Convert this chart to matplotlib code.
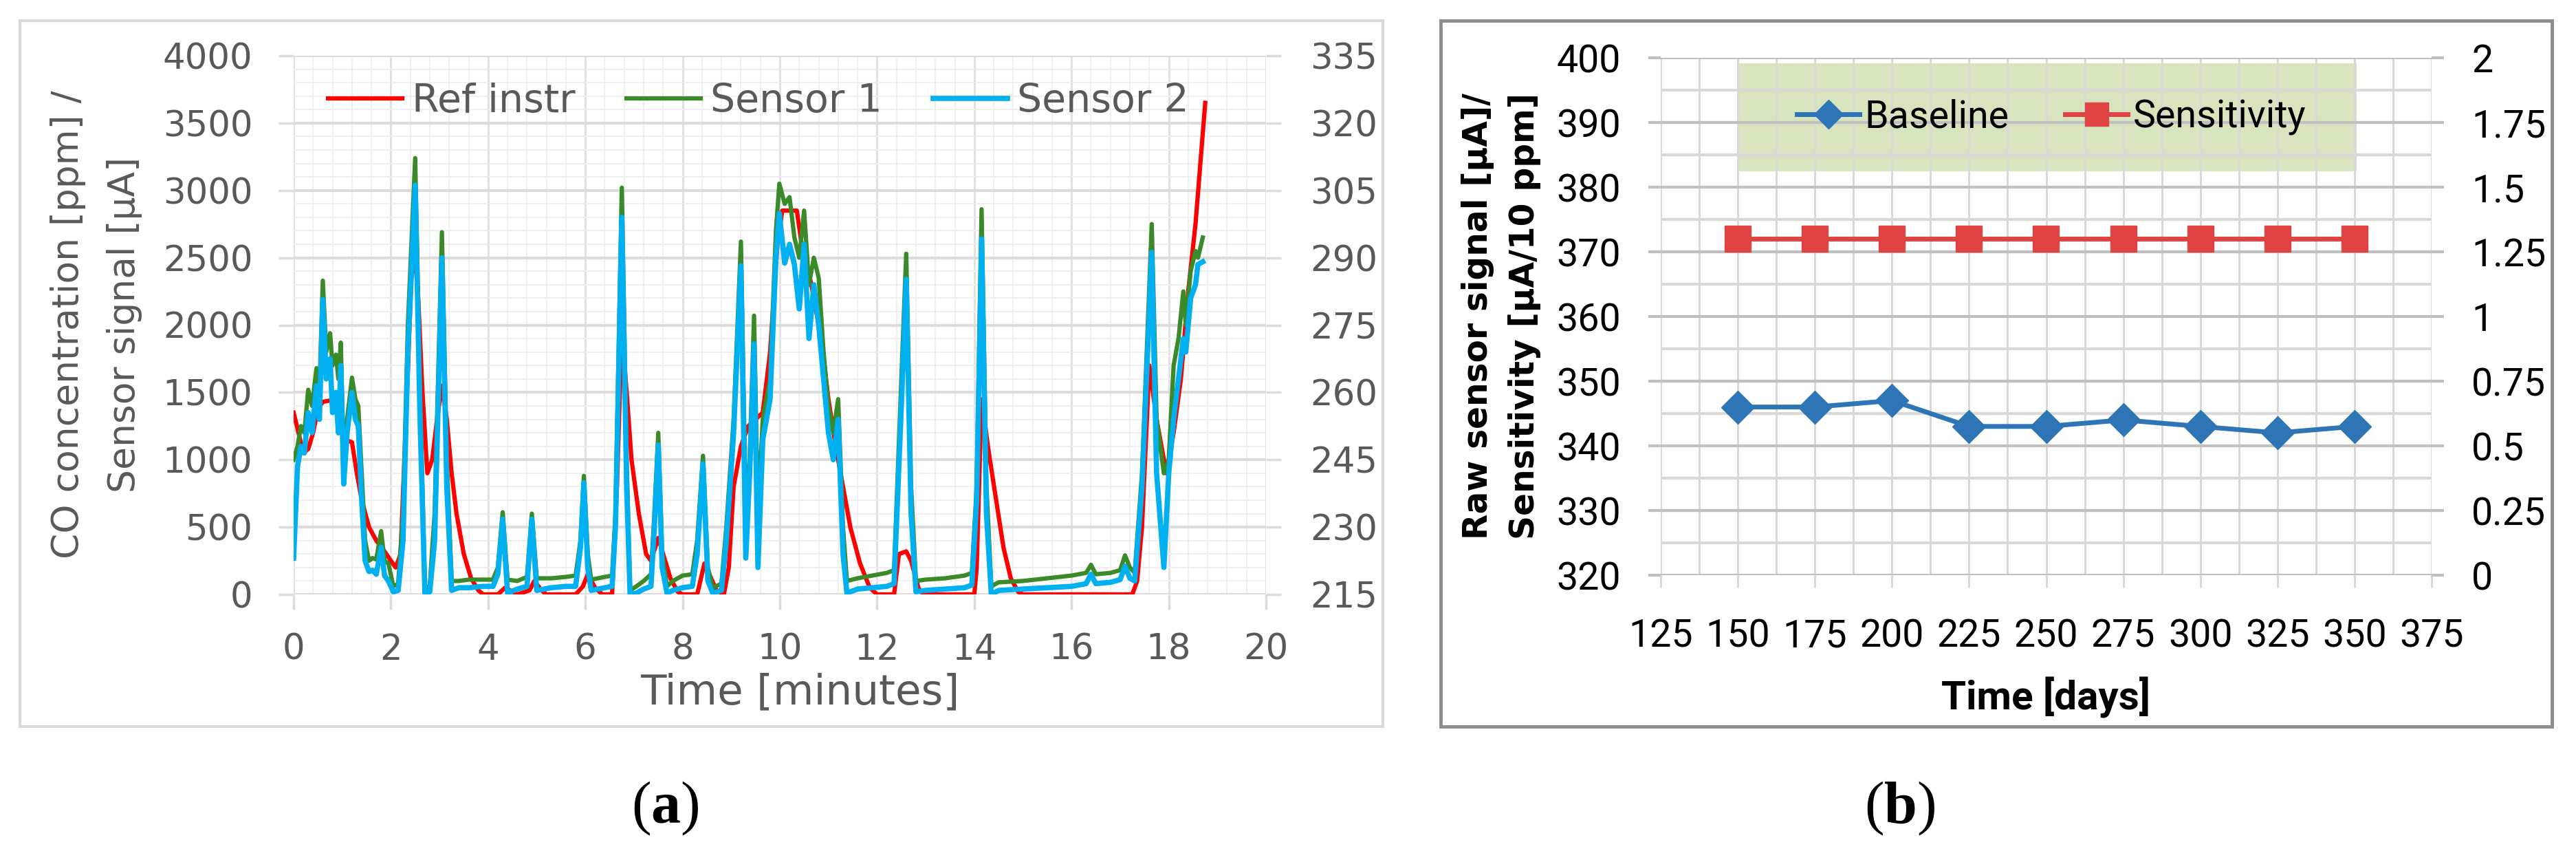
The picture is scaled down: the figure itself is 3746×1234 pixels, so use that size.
"""Two panel sensor figure: CO time series (a) and long term drift (b)."""

import matplotlib
matplotlib.use('Agg')
import matplotlib.pyplot as plt
from matplotlib.patches import Rectangle
from matplotlib.ticker import MultipleLocator, FuncFormatter

W, H, DPI = 3746, 1234, 100

# ---- panel (a): reference instrument [ppm] and two sensors [uA]
ref_time = [0.0, 0.1, 0.2, 0.3, 0.4, 0.5, 0.6, 0.75, 0.85, 0.95, 1.05, 1.2,
            1.3, 1.4, 1.55, 1.7, 1.85, 2.0, 2.1, 2.2, 2.3, 2.45, 2.55, 2.65,
            2.75, 2.85, 2.95, 3.05, 3.15, 3.25, 3.35, 3.5, 3.65, 3.8, 3.9,
            4.2, 4.35, 4.5, 4.6, 4.85, 4.95, 5.1, 5.2, 5.8, 5.95, 6.05, 6.2,
            6.35, 6.55, 6.65, 6.75, 6.85, 6.95, 7.1, 7.25, 7.35, 7.5, 7.6,
            7.75, 7.9, 8.0, 8.3, 8.45, 8.55, 8.7, 8.85, 8.95, 9.05, 9.2, 9.35,
            9.5, 9.65, 9.8, 9.95, 10.05, 10.35, 10.45, 10.65, 10.85, 11.0,
            11.15, 11.3, 11.45, 11.65, 11.85, 12.0, 12.35, 12.45, 12.6, 12.7,
            12.85, 12.95, 14.0, 14.05, 14.15, 14.3, 14.45, 14.6, 14.75, 14.9,
            15.0, 17.25, 17.35, 17.45, 17.6, 17.75, 17.95, 18.1, 18.25, 18.4,
            18.55, 18.65, 18.75]
ref_ppm = [1350, 1200, 1050, 1080, 1200, 1380, 1430, 1440, 1400, 1250, 1150,
           1130, 900, 700, 500, 400, 330, 250, 200, 300, 1200, 2620, 2300,
           1500, 900, 1000, 1300, 1550, 1300, 900, 600, 300, 120, 30, 0,
           0, 50, 20, 0, 30, 100, 30, 0, 0, 60, 150, 50,
           0, 0, 800, 1960, 1500, 1000, 600, 300, 250, 420, 300,
           120, 20, 0, 0, 230, 150, 30, 0, 200, 800, 1100, 1250,
           1300, 1350, 1800, 2600, 2850, 2850, 2600, 2300, 1900, 1450,
           1100, 800, 500, 230, 50, 0, 0, 300, 320, 250,
           50, 0, 0, 200, 1450, 1050, 700, 350, 120, 20,
           0, 0, 100, 500, 1700, 1300, 900, 1200, 1600, 2250,
           2750, 3200, 3650]

sensor_time = [0.0, 0.08, 0.15, 0.22, 0.3, 0.38, 0.47, 0.53, 0.6, 0.67,
               0.75, 0.8, 0.87, 0.92, 0.97, 1.03, 1.1, 1.2, 1.27, 1.33,
               1.4, 1.47, 1.55, 1.62, 1.7, 1.8, 1.87, 1.95, 2.05, 2.15,
               2.25, 2.35, 2.5, 2.6, 2.7, 2.8, 2.9, 3.05, 3.15, 3.25,
               3.4, 3.6, 3.9, 4.1, 4.2, 4.3, 4.4, 4.6, 4.8, 4.9,
               5.0, 5.3, 5.6, 5.8, 5.9, 5.97, 6.05, 6.12, 6.4, 6.55,
               6.62, 6.75, 6.85, 6.92, 7.05, 7.2, 7.35, 7.42, 7.5, 7.58,
               7.68, 7.8, 8.0, 8.2, 8.3, 8.42, 8.52, 8.62, 8.8, 8.9,
               9.05, 9.2, 9.3, 9.38, 9.47, 9.55, 9.65, 9.8, 9.92, 9.99,
               10.1, 10.2, 10.3, 10.4, 10.5, 10.6, 10.7, 10.8, 10.9, 11.0,
               11.1, 11.2, 11.3, 11.38, 11.6, 11.9, 12.2, 12.35, 12.5, 12.6,
               12.7, 12.8, 13.0, 13.4, 13.8, 13.95, 14.05, 14.15, 14.25, 14.35,
               14.5, 15.0, 15.5, 16.0, 16.3, 16.4, 16.5, 16.8, 17.0, 17.1,
               17.2, 17.3, 17.45, 17.65, 17.75, 17.9, 18.0, 18.1, 18.2, 18.3,
               18.35, 18.45, 18.55, 18.6, 18.7]
sensor1_ua = [245.0, 248.0, 252.5, 251.0, 260.6, 257.0, 265.4, 260.0, 284.9, 269.0,
              273.2, 266.0, 268.4, 263.0, 271.1, 245.0, 254.0, 263.3, 258.5, 257.0,
              242.0, 227.0, 222.5, 223.1, 222.8, 229.1, 222.5, 221.9, 216.8, 217.4,
              233.0, 275.0, 312.2, 260.0, 216.5, 216.8, 233.0, 295.7, 245.0, 218.0,
              218.0, 218.3, 218.3, 218.3, 221.0, 233.3, 218.3, 218.0, 218.9, 233.0,
              218.6, 218.6, 218.9, 219.2, 227.0, 241.4, 224.0, 218.3, 218.9, 219.2,
              233.0, 305.6, 245.0, 215.9, 216.8, 218.0, 219.5, 233.0, 251.0, 224.0,
              216.8, 218.0, 219.2, 219.5, 227.0, 245.9, 221.0, 216.5, 217.4, 230.0,
              254.0, 293.6, 233.0, 245.0, 277.1, 233.0, 254.0, 263.0, 296.0, 306.5,
              302.0, 303.5, 294.5, 290.0, 300.5, 284.0, 290.0, 285.5, 269.0, 257.0,
              251.0, 258.5, 230.0, 218.0, 218.6, 219.2, 219.8, 220.4, 263.0, 290.9,
              239.0, 218.0, 218.3, 218.6, 219.2, 219.8, 239.0, 300.8, 239.0, 216.8,
              217.7, 218.0, 218.6, 219.2, 219.8, 221.6, 219.5, 219.8, 220.4, 223.7,
              221.0, 219.8, 242.0, 297.5, 254.0, 242.0, 245.0, 266.0, 272.0, 282.5,
              275.0, 287.0, 291.5, 290.0, 294.5]
sensor2_ua = [223.1, 243.5, 248.0, 246.5, 255.5, 251.0, 261.5, 254.0, 280.7, 263.0,
              267.5, 255.5, 260.0, 251.0, 266.0, 239.6, 251.0, 260.0, 254.0, 252.5,
              236.0, 222.5, 220.1, 220.4, 219.5, 225.5, 219.2, 218.0, 215.6, 215.9,
              227.0, 269.0, 306.2, 254.0, 215.3, 215.6, 227.0, 290.0, 239.0, 215.9,
              216.5, 216.5, 216.8, 216.8, 219.5, 231.8, 215.3, 216.2, 216.8, 231.8,
              215.9, 216.5, 216.8, 216.8, 225.5, 239.9, 221.0, 215.9, 216.5, 216.8,
              230.0, 299.0, 239.0, 215.0, 215.3, 216.2, 216.8, 230.0, 248.3, 221.0,
              215.3, 215.9, 216.5, 216.8, 224.0, 244.1, 218.0, 215.3, 215.9, 227.0,
              251.0, 288.2, 223.1, 242.0, 270.8, 221.0, 249.5, 258.5, 290.0, 299.9,
              288.8, 293.0, 288.5, 278.6, 293.0, 272.0, 284.0, 275.0, 263.0, 251.0,
              245.0, 254.0, 224.0, 215.3, 216.2, 216.5, 216.8, 217.4, 257.0, 285.2,
              233.0, 215.6, 215.9, 216.2, 216.5, 217.1, 236.0, 294.2, 233.0, 215.0,
              215.9, 216.2, 216.5, 216.8, 217.4, 219.5, 217.4, 217.7, 218.3, 221.3,
              218.6, 218.0, 239.0, 291.2, 242.0, 221.0, 242.0, 254.0, 263.0, 272.0,
              269.0, 281.0, 284.0, 288.5, 289.1]
sensor_ticks = [215, 230, 245, 260, 275, 290, 305, 320, 335]

# ---- panel (b): baseline [uA] and sensitivity [uA/10 ppm] over days
days = [150, 175, 200, 225, 250, 275, 300, 325, 350]
baseline_ua = [346, 346, 347, 343, 343, 344, 343, 342, 343]
sensitivity = [1.3, 1.3, 1.3, 1.3, 1.3, 1.3, 1.3, 1.3, 1.3]

GRAY_TXT = '#595959'
plt.rcParams['font.family'] = ['DejaVu Sans']
plt.rcParams['mathtext.fontset'] = 'custom'
plt.rcParams['mathtext.rm'] = 'Liberation Serif'
plt.rcParams['mathtext.bf'] = 'Liberation Serif:bold'

fig = plt.figure(figsize=(W / DPI, H / DPI), dpi=DPI)


def px_axes(x0, y0, x1, y1):
    """Axes from pixel box (top-left origin)."""
    return fig.add_axes([x0 / W, 1 - y1 / H, (x1 - x0) / W, (y1 - y0) / H])


def frame(x0, y0, x1, y1, color, lw):
    fig.patches.append(Rectangle((x0 / W, 1 - y1 / H), (x1 - x0) / W,
                                 (y1 - y0) / H, transform=fig.transFigure,
                                 fill=False, edgecolor=color, linewidth=lw))


frame(29, 30, 2011, 1056, '#dadada', 3)
frame(2095, 30, 3711, 1056, '#8c8c8c', 3.5)

# ================= panel (a)
ax = px_axes(427, 81, 1841, 864)
ax.set_xlim(0, 20)
ax.set_ylim(0, 4000)
ax.xaxis.set_major_locator(MultipleLocator(2))
ax.xaxis.set_minor_locator(MultipleLocator(0.4))
ax.yaxis.set_major_locator(MultipleLocator(500))
ax.yaxis.set_minor_locator(MultipleLocator(100))
ax.set_axisbelow(True)
ax.grid(axis='y', which='major', color='#dcdcdc', lw=3)
ax.grid(axis='x', which='major', color='#e0e0e0', lw=2)
ax.grid(which='minor', color='#efefef', lw=1.3)
for s in ax.spines.values():
    s.set_visible(False)
ax.tick_params(which='major', length=16, width=2.5, color='#dcdcdc',
               labelsize=37, labelcolor=GRAY_TXT)
ax.tick_params(axis='y', which='major', pad=27)
ax.tick_params(axis='x', which='major', pad=24)
ax.tick_params(which='minor', length=0)

line_ref, = ax.plot(ref_time, ref_ppm, color='#ff0000', lw=4.5,
                    label='Ref instr')

ax2 = ax.twinx()
ax2.set_ylim(215, 335)
ax2.set_yticks(sensor_ticks)
for s in ax2.spines.values():
    s.set_visible(False)
ax2.tick_params(which='major', length=16, width=2.5, color='#dcdcdc',
                labelsize=37, labelcolor=GRAY_TXT, pad=30)
line_s1, = ax2.plot(sensor_time, sensor1_ua, color='#3a8a2a', lw=4.5,
                    label='Sensor 1')
line_s2, = ax2.plot(sensor_time, sensor2_ua, color='#00b0f0', lw=5.5,
                    label='Sensor 2')

ax2.legend(handles=[line_ref, line_s1, line_s2], loc='center',
           bbox_to_anchor=(0.478, 0.9157), ncol=3, frameon=False,
           fontsize=41, handlelength=1.9, handletextpad=0.25,
           columnspacing=1.3, labelcolor=GRAY_TXT)

fig.text(1163 / W, 1 - 1023 / H, 'Time [minutes]', fontsize=44,
         color=GRAY_TXT, ha='center', va='baseline')
fig.text(140 / W, 1 - 472 / H, 'CO concentration [ppm] /\nSensor signal [µA]',
         fontsize=38.5, color=GRAY_TXT, rotation=90, ha='center',
         va='center', linespacing=1.72, multialignment='center')

# ================= panel (b)
bx = px_axes(2415, 84, 3536, 836)
bx.set_xlim(125, 375)
bx.set_ylim(320, 400)
bx.xaxis.set_major_locator(MultipleLocator(25))
bx.xaxis.set_minor_locator(MultipleLocator(12.5))
bx.yaxis.set_major_locator(MultipleLocator(10))
bx.yaxis.set_minor_locator(MultipleLocator(5))
bx.set_axisbelow(True)
bx.grid(axis='y', which='major', color='#bfbfbf', lw=3)
bx.grid(axis='y', which='minor', color='#d9d9d9', lw=3)
bx.grid(axis='x', which='both', color='#d9d9d9', lw=2.2)
for s in bx.spines.values():
    s.set_visible(False)
bx.tick_params(axis='y', which='major', length=13, width=3, color='#bfbfbf',
               labelsize=40, pad=29)
bx.tick_params(axis='x', which='major', length=13, width=2.2,
               color='#d9d9d9', labelsize=40, pad=32)
bx.tick_params(which='minor', length=0)
bx.add_patch(Rectangle((0.1008, 0.7806), 0.802, 0.2088,
                       transform=bx.transAxes, facecolor='#d7e4bd',
                       edgecolor='none', zorder=0.1))

line_base, = bx.plot(days, baseline_ua, color='#2e75b6', lw=5, marker='D',
                     ms=24, label='Baseline', zorder=3)

bx2 = bx.twinx()
bx2.set_ylim(0, 2)
bx2.yaxis.set_major_locator(MultipleLocator(0.25))
bx2.yaxis.set_major_formatter(FuncFormatter(lambda v, p: '%g' % v))
for s in bx2.spines.values():
    s.set_visible(False)
bx2.tick_params(axis='y', length=13, width=3, color='#bfbfbf',
                labelsize=40, pad=29)
line_sens, = bx2.plot(days, sensitivity, color='#e04343', lw=5, marker='s',
                      ms=27, label='Sensitivity')

for lbl in (bx.get_xticklabels() + bx.get_yticklabels()
            + bx2.get_yticklabels()):
    lbl.set_fontfamily('Roboto')

bx2.legend(handles=[line_base, line_sens], loc='center',
           bbox_to_anchor=(0.5067, 0.8856), ncol=2, frameon=False,
           prop={'family': 'Roboto', 'size': 40}, handlelength=1.64,
           handletextpad=0.13, columnspacing=1.47, markerscale=0.9)

fig.text(2975 / W, 1 - 1031 / H, 'Time [days]', fontsize=42,
         fontweight='bold', family='Roboto', ha='center', va='baseline')
fig.text(2183 / W, 1 - 460 / H,
         'Raw sensor signal [µA]/\nSensitivity [µA/10 ppm]', fontsize=35,
         fontweight='bold', rotation=90, ha='center', va='center',
         linespacing=1.55, multialignment='center')

# ---- captions
for cx, letter in ((967, 'a'), (2763, 'b')):
    fig.text(cx / W, 1 - 1196 / H, r'($\mathbf{%s}$)' % letter, fontsize=62,
             family='Liberation Serif', ha='center', va='baseline')

fig.savefig('out.png', dpi=DPI)
